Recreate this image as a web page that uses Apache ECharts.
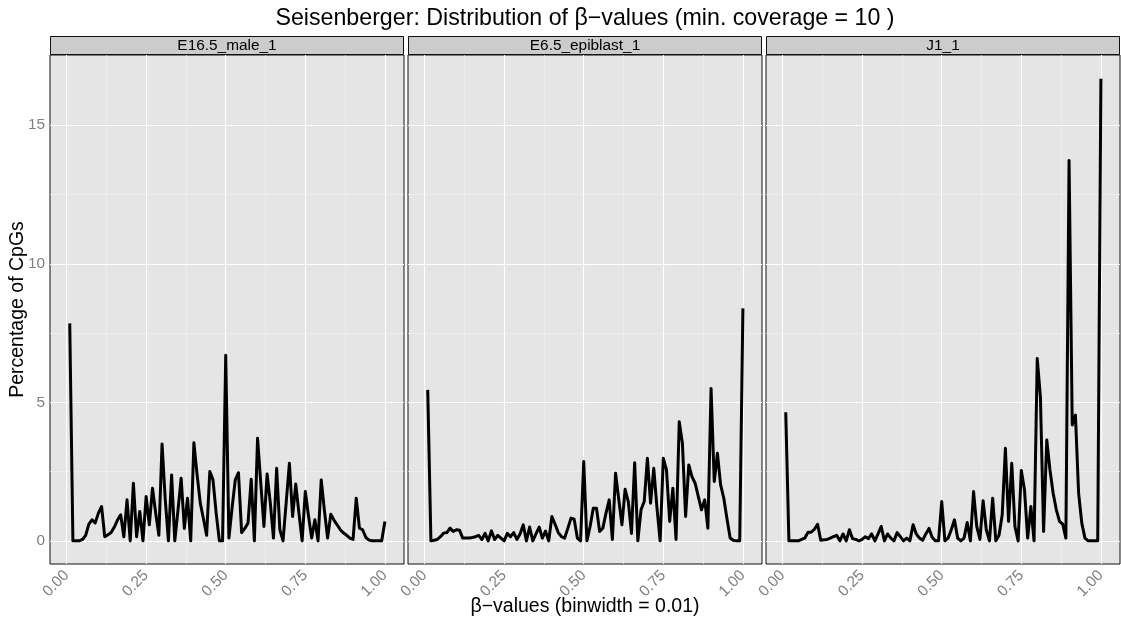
<!DOCTYPE html>
<html>
<head>
<meta charset="utf-8">
<title>Seisenberger: Distribution of β−values</title>
<script src="https://cdn.jsdelivr.net/npm/echarts@6/dist/echarts.min.js"></script>
<style>
  html, body { margin: 0; padding: 0; background: #ffffff; }
  #chart { width: 1121px; height: 622px; }
</style>
</head>
<body>
<div id="chart"></div>
<script>
// Facet (sample) names, one panel each
const facetNames = ['E16.5_male_1', 'E6.5_epiblast_1', 'J1_1'];

// Axis breaks
const xBreaks = [0, 0.25, 0.5, 0.75, 1];
const xMinorBreaks = [0.125, 0.375, 0.625, 0.875];
const yBreaks = [0, 5, 10, 15];
const yMinorBreaks = [2.5, 7.5, 12.5];

// β-value bins (binwidth = 0.01)
const betaBins = Array.from({ length: 100 }, (_, i) => +((i + 1) / 100).toFixed(2));

// Percentage of CpGs per bin
const e165Male1 = [
  7.85, 0, 0, 0, 0.05, 0.2, 0.6, 0.76, 0.65, 1.0,
  1.24, 0.15, 0.22, 0.3, 0.5, 0.75, 0.94, 0.15, 1.48, 0,
  2.08, 0.15, 1.06, 0, 1.6, 0.58, 1.9, 1.0, 0.2, 3.5,
  1.5, 0, 2.38, 0, 1.1, 2.26, 0.45, 1.54, 0, 3.54,
  2.4, 1.37, 0.8, 0.2, 2.5, 2.2, 1.0, 0, 0, 6.7,
  0.1, 1.2, 2.2, 2.46, 0.3, 0.45, 0.64, 2.22, 0, 3.7,
  2.1, 0.52, 2.41, 1.37, 0.1, 2.62, 0.4, 0, 1.4, 2.8,
  0.88, 2.05, 1.0, 0, 1.78, 0.9, 0.1, 0.76, 0, 2.2,
  1.1, 0.1, 0.96, 0.75, 0.58, 0.4, 0.28, 0.2, 0.1, 0.05,
  1.54, 0.46, 0.4, 0.13, 0.03, 0, 0, 0, 0, 0.7
];
const e65Epiblast1 = [
  5.45, 0, 0.02, 0.05, 0.15, 0.28, 0.3, 0.46, 0.34, 0.4,
  0.38, 0.1, 0.1, 0.1, 0.12, 0.15, 0.2, 0.05, 0.27, 0,
  0.36, 0.05, 0.2, 0.1, 0, 0.27, 0.15, 0.3, 0.05, 0.25,
  0.58, 0, 0.5, 0, 0.25, 0.5, 0.1, 0.35, 0, 0.88,
  0.6, 0.3, 0.15, 0.1, 0.45, 0.82, 0.78, 0.1, 0, 2.86,
  0, 0.52, 1.18, 1.18, 0.34, 0.46, 1.0, 1.48, 0.05, 2.44,
  1.5, 0.58, 1.86, 1.42, 0.27, 2.82, 0, 1.12, 1.42, 2.98,
  1.36, 2.62, 1.2, 0, 2.98, 2.56, 0.7, 1.9, 0.05, 4.3,
  3.52, 0.88, 2.74, 2.32, 2.08, 1.6, 1.12, 1.48, 0.46, 5.5,
  2.14, 3.16, 2.02, 1.54, 0.8, 0.1, 0.02, 0, 0, 8.39
];
const j1Cells = [
  4.64, 0, 0, 0, 0, 0.05, 0.1, 0.31, 0.31, 0.42,
  0.6, 0.02, 0.04, 0.05, 0.1, 0.15, 0.2, 0, 0.25, 0,
  0.4, 0.08, 0.05, 0, 0.05, 0.15, 0.08, 0.25, 0, 0.25,
  0.52, 0, 0.25, 0.1, 0, 0.3, 0.15, 0, 0.1, 0,
  0.58, 0.25, 0.1, 0.02, 0.25, 0.45, 0.13, 0, 0, 1.42,
  0, 0.1, 0.4, 0.76, 0.1, 0, 0.1, 0.66, 0, 1.78,
  0.52, 0.05, 1.45, 0.4, 0, 1.54, 0, 0.2, 0.94, 3.34,
  0.7, 2.8, 0.52, 0, 2.54, 1.84, 0.1, 1.24, 0, 6.58,
  5.2, 0.34, 3.64, 2.56, 1.72, 1.12, 0.7, 0.6, 0.1, 13.73,
  4.18, 4.54, 1.72, 0.64, 0.1, 0, 0, 0, 0, 16.68
];

const facetValues = [e165Male1, e65Epiblast1, j1Cells];

// Layout of the three facet panels
const FONT = '"Liberation Sans", Arial, Helvetica, sans-serif';
const panelLeft = [50, 408, 766];
const panelWidth = 354;
const panelTop = 55;
const panelHeight = 509;
const stripHeight = 19;
const xRange = [-0.052, 1.06];
const yRange = [-0.835, 17.535];

const grids = [], xAxes = [], yAxes = [], series = [], graphics = [];

facetNames.forEach((name, g) => {
  grids.push({
    left: panelLeft[g], top: panelTop, width: panelWidth, height: panelHeight,
    show: true, backgroundColor: '#e5e5e5', borderColor: '#111111', borderWidth: 1,
    containLabel: false
  });

  // minor grid lines
  xAxes.push({
    gridIndex: g, type: 'value', min: xRange[0], max: xRange[1], position: 'top',
    axisLine: { show: false }, axisLabel: { show: false },
    axisTick: { show: false, customValues: xMinorBreaks },
    splitLine: { show: true, lineStyle: { color: '#f2f2f2', width: 0.6 } }
  });
  // major axis with tick labels
  xAxes.push({
    gridIndex: g, type: 'value', min: xRange[0], max: xRange[1], position: 'bottom',
    axisLine: { show: false },
    axisTick: { show: false, customValues: xBreaks },
    axisLabel: {
      customValues: xBreaks, rotate: 45, margin: 9,
      formatter: v => v.toFixed(2),
      color: '#7f7f7f', fontSize: 15.4, fontFamily: FONT
    },
    splitLine: { show: true, lineStyle: { color: '#ffffff', width: 1.1 } }
  });

  yAxes.push({
    gridIndex: g, type: 'value', min: yRange[0], max: yRange[1], position: 'right',
    axisLine: { show: false }, axisLabel: { show: false },
    axisTick: { show: false, customValues: yMinorBreaks },
    splitLine: { show: true, lineStyle: { color: '#f2f2f2', width: 0.6 } }
  });
  yAxes.push({
    gridIndex: g, type: 'value', min: yRange[0], max: yRange[1], position: 'left',
    axisLine: { show: false },
    axisTick: { show: false, customValues: yBreaks },
    axisLabel: {
      show: g === 0, customValues: yBreaks, margin: 5,
      color: '#7f7f7f', fontSize: 15.4, fontFamily: FONT
    },
    splitLine: { show: true, lineStyle: { color: '#ffffff', width: 1.1 } }
  });

  series.push({
    name: name, type: 'line',
    xAxisIndex: 2 * g + 1, yAxisIndex: 2 * g + 1,
    data: betaBins.map((b, i) => [b, facetValues[g][i]]),
    showSymbol: false, symbol: 'none',
    lineStyle: { color: '#000000', width: 3, join: 'round', cap: 'butt' },
    z: 5
  });

  // facet strip
  graphics.push({
    type: 'rect',
    shape: { x: panelLeft[g] + 0.5, y: panelTop - stripHeight + 0.5, width: panelWidth - 1, height: stripHeight - 1 },
    style: { fill: '#cccccc', stroke: '#111111', lineWidth: 1 },
    z: 10
  });
  graphics.push({
    type: 'text',
    x: panelLeft[g] + panelWidth / 2, y: panelTop - stripHeight / 2 + 0.5,
    style: {
      text: name, fill: '#000000', font: '15.4px ' + FONT,
      textAlign: 'center', textVerticalAlign: 'middle'
    },
    z: 11
  });
});

const plotCenterX = (panelLeft[0] + panelLeft[2] + panelWidth) / 2;

graphics.push({
  type: 'text', x: plotCenterX, y: 19,
  style: {
    text: 'Seisenberger: Distribution of β−values (min. coverage = 10 )',
    fill: '#000000', font: '23.2px ' + FONT,
    textAlign: 'center', textVerticalAlign: 'middle'
  }
});
graphics.push({
  type: 'text', x: plotCenterX, y: 607,
  style: {
    text: 'β−values (binwidth = 0.01)',
    fill: '#000000', font: '19.5px ' + FONT,
    textAlign: 'center', textVerticalAlign: 'middle'
  }
});
graphics.push({
  type: 'text', x: 18, y: panelTop + panelHeight / 2, rotation: Math.PI / 2,
  style: {
    text: 'Percentage of CpGs',
    fill: '#000000', font: '19.5px ' + FONT,
    textAlign: 'center', textVerticalAlign: 'middle'
  }
});

const chart = echarts.init(document.getElementById('chart'), null, { renderer: 'canvas' });
chart.setOption({
  animation: false,
  backgroundColor: '#ffffff',
  grid: grids,
  xAxis: xAxes,
  yAxis: yAxes,
  series: series,
  graphic: graphics
});
</script>
</body>
</html>
